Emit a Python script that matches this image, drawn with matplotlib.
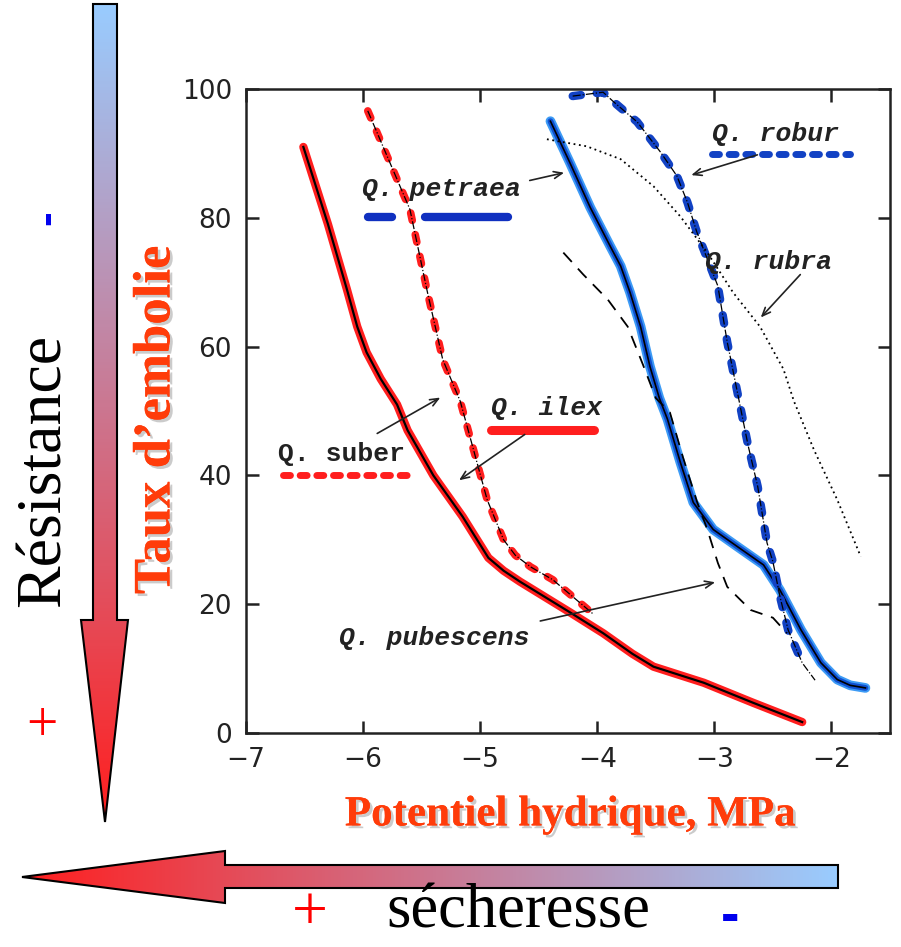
import numpy as np
import matplotlib.pyplot as plt
from matplotlib.patches import Polygon
import matplotlib.patheffects as pe

# courbes de vulnérabilité (potentiel hydrique MPa, taux d'embolie %)
ilex_x = [-6.51, -6.30, -6.14, -6.05, -5.97, -5.85, -5.71, -5.62, -5.40, -5.15, -4.93, -4.80, -4.66, -4.23, -3.95, -3.70, -3.52, -3.09, -2.67, -2.25]
ilex_y = [91, 79, 69, 63.1, 59.1, 55, 51, 47, 40, 33.6, 27.2, 25.2, 23.5, 18.7, 15.5, 12.3, 10.3, 7.8, 4.7, 1.7]

suber_x = [-5.96, -5.60, -5.45, -5.32, -5.17, -4.94, -4.80, -4.70, -4.57, -4.38, -4.03]
suber_y = [96.6, 81.3, 68.4, 58, 51.5, 36.2, 30.0, 27.6, 25.8, 23.8, 18.4]

petraea_x = [-4.40, -4.23, -4.06, -3.89, -3.80, -3.72, -3.63, -3.55, -3.47, -3.40, -3.29, -3.18, -3.01, -2.80, -2.58, -2.44, -2.26, -2.09, -1.95, -1.84, -1.71]
petraea_y = [95.0, 88.4, 81.6, 75.6, 72.5, 68.4, 63.1, 56.9, 52.0, 48.7, 42.0, 35.8, 31.6, 28.9, 26.1, 22.2, 16.0, 10.9, 8.3, 7.4, 7.0]

robur_x = [-4.21, -3.95, -3.86, -3.66, -3.46, -3.32, -3.23, -3.15, -3.06, -2.97, -2.89, -2.82, -2.71, -2.63, -2.55, -2.50, -2.44, -2.37, -2.25]
robur_y = [98.9, 99.5, 98, 94.9, 90.2, 86.5, 82.4, 77.8, 73.6, 69.4, 60.7, 54.4, 44.5, 38.3, 29.5, 26.6, 21.2, 16.0, 10.9]
robur_tail_x = [-2.25, -2.14]
robur_tail_y = [10.9, 8.2]

rubra_x = [-4.43, -4.09, -3.80, -3.52, -3.29, -3.06, -2.84, -2.61, -2.41, -2.32, -2.15, -1.95, -1.75]
rubra_y = [92.2, 91.1, 89.1, 84.9, 80.2, 74.6, 68.4, 63.1, 56.5, 51.5, 44, 36.2, 27.4]

pubescens_x = [-4.29, -4.12, -3.91, -3.74, -3.61, -3.50, -3.38, -3.27, -3.15, -3.06, -2.97, -2.89, -2.69, -2.50, -2.38]
pubescens_y = [74.6, 71.2, 67.3, 63.1, 57.2, 52.0, 49.8, 42.9, 36.0, 31.6, 26.4, 22.7, 19.1, 17.9, 15.5]

x_ticks = [-7, -6, -5, -4, -3, -2]
y_ticks = [0, 20, 40, 60, 80, 100]

RED = '#ff1e1e'
BLUE = '#1242c4'
ORANGE = '#ff3c0a'

fig = plt.figure(figsize=(9.01, 9.47), dpi=100)

# couche de fond pour les flèches en dégradé (coordonnées en pixels)
bg = fig.add_axes([0, 0, 1, 1], zorder=0)
bg.set_xlim(0, 901)
bg.set_ylim(947, 0)
bg.axis('off')

c_blue = np.array([0.60, 0.80, 1.0])
c_red = np.array([1.0, 0.12, 0.12])
t = np.linspace(0, 1, 256)
grad = c_blue[None, :] * (1 - t[:, None]) + c_red[None, :] * t[:, None]

# flèche verticale (Résistance)
vpoly = Polygon([(93, 4), (117, 4), (117, 620), (128, 620), (105, 822), (81, 620), (93, 620)],
                closed=True, facecolor='none', edgecolor='black', lw=1.5, zorder=3)
bg.add_patch(vpoly)
im = bg.imshow(grad[:, None, :], extent=(80, 130, 822, 4), aspect='auto', zorder=2)
im.set_clip_path(vpoly)

# flèche horizontale (sécheresse)
hpoly = Polygon([(838, 865), (838, 888), (225, 888), (225, 903), (22, 877), (225, 851), (225, 865)],
                closed=True, facecolor='none', edgecolor='black', lw=1.5, zorder=3)
bg.add_patch(hpoly)
im2 = bg.imshow(grad[::-1][None, :, :], extent=(22, 838, 905, 849), aspect='auto', zorder=2)
im2.set_clip_path(hpoly)

serif = 'Liberation Serif'
bg.text(45, 470, 'Résistance', rotation=90, ha='center', va='center',
        fontsize=46, family=serif, color='black')
bg.text(48, 218, '-', rotation=90, ha='center', va='center',
        fontsize=32, family='Liberation Sans', fontweight='bold', color='#0000ee')
bg.text(42, 727, '+', ha='center', va='center', fontsize=40, family=serif, color='#ff0000')
bg.text(518, 912, 'sécheresse', ha='center', va='center', fontsize=45, family=serif, color='black')
bg.text(310, 915, '+', ha='center', va='center', fontsize=46, family=serif, color='#ff0000')
bg.text(730, 918, '-', ha='center', va='center', fontsize=40, family='Liberation Sans',
        fontweight='bold', color='#0000ee')

# graphique principal
ax = fig.add_axes([246 / 901, 1 - 733 / 947, 644 / 901, 644 / 947], zorder=1)
ax.set_xlim(-7, -1.5)
ax.set_ylim(0, 100)

shadow = [pe.withSimplePatchShadow(offset=(2, -2), shadow_rgbFace='#999999', alpha=0.5), pe.Normal()]

# Q. ilex
ax.plot(ilex_x, ilex_y, color=RED, lw=6, solid_capstyle='round', solid_joinstyle='round')
ax.plot(ilex_x, ilex_y, color='black', lw=1.6, solid_joinstyle='round')
# Q. suber
ax.plot(suber_x, suber_y, color=RED, lw=5.5, linestyle=(0, (1.0, 1.9)), dash_capstyle='round')
ax.plot(suber_x, suber_y, color='black', lw=0.9, linestyle='-.')
# Q. petraea
ax.plot(petraea_x, petraea_y, color='#3d9bf5', lw=7, solid_capstyle='round', solid_joinstyle='round')
ax.plot(petraea_x, petraea_y, color='#1050d0', lw=4.2, solid_capstyle='round', solid_joinstyle='round')
ax.plot(petraea_x, petraea_y, color='black', lw=1.2, solid_joinstyle='round')
# Q. robur
ax.plot(robur_x, robur_y, color=BLUE, lw=6, linestyle=(0, (1.0, 1.9)), dash_capstyle='round')
ax.plot(robur_x + robur_tail_x, robur_y + robur_tail_y, color='black', lw=0.9, linestyle='-.')
# Q. rubra
ax.plot(rubra_x, rubra_y, color='black', lw=1.3, linestyle=(0, (1, 2)))
# Q. pubescens
ax.plot(pubescens_x, pubescens_y, color='black', lw=1.3, linestyle=(0, (7, 5)))

# étiquettes des espèces
mono = dict(family='Liberation Mono', fontsize=19, fontweight='bold', color='#222222', va='center', ha='left')
ax.text(-6.01, 84.4, 'Q. petraea', style='italic', **mono)
ax.text(-3.02, 93.0, 'Q. robur', style='italic', **mono)
ax.text(-3.08, 73.2, 'Q. rubra', style='italic', **mono)
ax.text(-4.91, 50.4, 'Q. ilex', style='italic', **mono)
ax.text(-6.73, 43.4, 'Q. suber', **mono)
ax.text(-6.21, 14.8, 'Q. pubescens', style='italic', **mono)

# soulignements colorés
ax.plot([-5.96, -5.75], [80.2, 80.2], color='#1030c0', lw=6, solid_capstyle='round')
ax.plot([-5.47, -4.76], [80.2, 80.2], color='#1030c0', lw=6, solid_capstyle='round')
ax.plot([-3.02, -1.84], [89.9, 89.9], color=BLUE, lw=5, linestyle=(0, (1.0, 1.4)), dash_capstyle='round')
ax.plot([-4.91, -4.03], [47.0, 47.0], color=RED, lw=6.5, solid_capstyle='round')
ax.plot([-6.68, -5.58], [40.0, 40.0], color=RED, lw=5, linestyle=(0, (1.0, 1.4)), dash_capstyle='round')

# flèches
arrows = [((-4.60, 85.7), (-4.26, 87.1)),
          ((-2.61, 89.9), (-3.22, 86.5)),
          ((-2.25, 71.5), (-2.62, 64.2)),
          ((-4.60, 46.6), (-5.20, 39.0)),
          ((-5.90, 46.3), (-5.32, 52.3)),
          ((-4.51, 17.3), (-2.97, 23.5))]
for tail, head in arrows:
    ax.annotate('', xy=head, xytext=tail,
                arrowprops=dict(arrowstyle='->,head_length=0.6,head_width=0.25', color='#222222', lw=1.2))

ax.set_xticks(x_ticks)
ax.set_yticks(y_ticks)
ax.tick_params(direction='in', length=9, width=1.8, top=True, right=True,
               labelsize=19, pad=10, colors='#222222')
for s in ax.spines.values():
    s.set_linewidth(1.8)
    s.set_color('#222222')

ax.set_ylabel('Taux d\u2019embolie', family=serif, fontweight='bold', fontsize=38,
              color=ORANGE, path_effects=shadow)
ax.yaxis.set_label_coords(-0.139, 0.486)
ax.set_xlabel('Potentiel hydrique, MPa', family=serif, fontweight='bold', fontsize=31,
              color=ORANGE, path_effects=shadow)
ax.xaxis.set_label_coords(0.503, -0.128)
ax.xaxis.label.set_va('center')
ax.yaxis.label.set_va('center')

fig.savefig('out.png', dpi=100)
